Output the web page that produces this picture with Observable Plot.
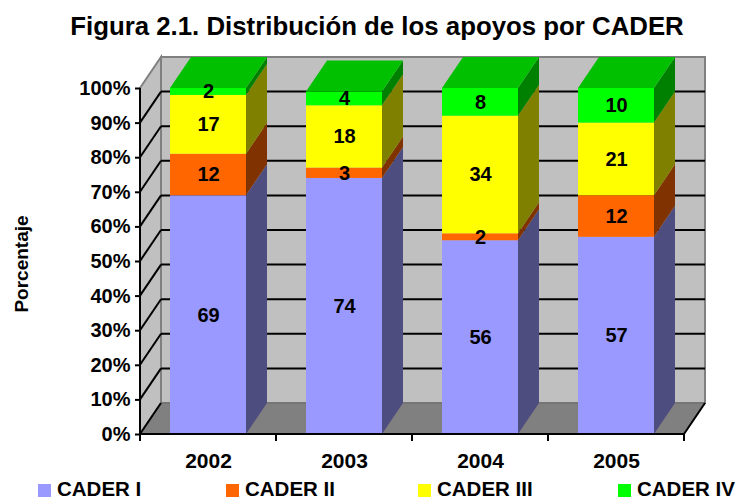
<!DOCTYPE html>
<html>
<head>
<meta charset="utf-8">
<script src="https://cdn.jsdelivr.net/npm/d3@7"></script>
<script src="https://cdn.jsdelivr.net/npm/@observablehq/plot@0.6"></script>
<style>
  body { margin: 0; background: #ffffff; }
  #wrap { position: relative; width: 737px; height: 500px; overflow: hidden;
          font-family: "Liberation Sans", Arial, Helvetica, sans-serif; font-weight: bold; color: #000; }
  #chart { position: absolute; left: 0; top: 0; }
  #title { position: absolute; left: 0; top: 14px; width: 754px; text-align: center;
           font-size: 25.8px; line-height: 1; white-space: nowrap; }
  #ytitle { position: absolute; left: 21px; top: 264px; font-size: 19px; line-height: 1;
            white-space: nowrap; transform: translate(-50%, -50%) rotate(-90deg); }
  .lg-sw { position: absolute; top: 484px; width: 13px; height: 13px; }
  .lg-tx { position: absolute; top: 479px; font-size: 20.5px; line-height: 1; white-space: nowrap; }
</style>
</head>
<body>
<div id="wrap">
  <div id="chart"></div>
  <div id="title">Figura 2.1. Distribución de los apoyos por CADER</div>
  <div id="ytitle">Porcentaje</div>
</div>
<script>
// ---- data ----
const years = ["2002", "2003", "2004", "2005"];
const series = ["CADER I", "CADER II", "CADER III", "CADER IV"];
const caderI   = [69, 74, 56, 57];
const caderII  = [12, 3, 2, 12];
const caderIII = [17, 18, 34, 21];
const caderIV  = [2, 4, 8, 10];
const yTicks = [0, 10, 20, 30, 40, 50, 60, 70, 80, 90, 100];

// ---- styles ----
const frontColors = ["#9999FF", "#FF6600", "#FFFF00", "#00FF00"];
const sideColors  = ["#4D4D80", "#803300", "#808000", "#008000"];
const topColor = "#00C000";
const DX = 21, DY = -31; // 3D depth offset

// build stacked rows
const values = [caderI, caderII, caderIII, caderIV];
const rows = [];
years.forEach((yr, i) => {
  let acc = 0;
  series.forEach((s, si) => {
    const v = values[si][i];
    rows.push({year: yr, series: s, si, value: v, y1: acc, y2: acc + v, last: si === series.length - 1});
    acc += v;
  });
});

function bw(s) { return typeof s.bandwidth === "function" ? s.bandwidth() : s.bandwidth; }

// walls, floor, gridlines
const walls = (index, scales, vals, dims) => {
  const g = d3.create("svg:g");
  const x0 = dims.marginLeft, x1 = dims.width - dims.marginRight;
  const y = scales.y;
  const yb = y(0), yt = y(100);
  g.append("rect").attr("x", x0 + DX).attr("y", yt + DY).attr("width", x1 - x0).attr("height", yb - yt)
    .attr("fill", "#C0C0C0").attr("stroke", "#808080").attr("stroke-width", 2);
  g.append("path").attr("d", `M${x0},${yb}L${x0},${yt}L${x0 + DX},${yt + DY}L${x0 + DX},${yb + DY}Z`)
    .attr("fill", "#C0C0C0").attr("stroke", "#808080").attr("stroke-width", 2);
  g.append("path").attr("d", `M${x0},${yb}L${x1},${yb}L${x1 + DX},${yb + DY}L${x0 + DX},${yb + DY}Z`)
    .attr("fill", "#808080").attr("stroke", "#6a6a6a").attr("stroke-width", 1);
  yTicks.forEach(t => {
    const yy = y(t);
    if (t > 0 && t < 100) {
      g.append("line").attr("x1", x0 + DX).attr("x2", x1 + DX).attr("y1", yy + DY).attr("y2", yy + DY)
        .attr("stroke", "#000").attr("stroke-width", 2);
    }
    if (t < 100) {
      g.append("line").attr("x1", x0).attr("x2", x0 + DX).attr("y1", yy).attr("y2", yy + DY)
        .attr("stroke", "#000").attr("stroke-width", 2);
    }
  });
  return g.node();
};

// side and top faces of bars
const faces = (index, scales, vals, dims) => {
  const g = d3.create("svg:g");
  const w = bw(scales.x);
  rows.forEach(d => {
    const xL = scales.x(d.year), xR = xL + w;
    const yT = scales.y(d.y2), yB = scales.y(d.y1);
    g.append("path").attr("d", `M${xR},${yB}L${xR},${yT}L${xR + DX},${yT + DY}L${xR + DX},${yB + DY}Z`)
      .attr("fill", sideColors[d.si]);
    if (d.last) {
      g.append("path").attr("d", `M${xL},${yT}L${xR},${yT}L${xR + DX},${yT + DY}L${xL + DX},${yT + DY}Z`)
        .attr("fill", topColor);
    }
  });
  return g.node();
};

// axis lines and category boundary ticks
const axes = (index, scales, vals, dims) => {
  const g = d3.create("svg:g");
  const x0 = dims.marginLeft, x1 = dims.width - dims.marginRight;
  const y = scales.y, yb = y(0), yt = y(100);
  const step = scales.x.step ? scales.x.step() : (x1 - x0) / years.length;
  const w = bw(scales.x);
  const centers = years.map(yr => scales.x(yr) + w / 2);
  const bounds = centers.map(c => c - step / 2).concat([centers[centers.length - 1] + step / 2]);
  g.append("line").attr("x1", x0).attr("x2", x0).attr("y1", yb + 1).attr("y2", yt)
    .attr("stroke", "#000").attr("stroke-width", 2);
  g.append("line").attr("x1", x0 - 1).attr("x2", x1).attr("y1", yb).attr("y2", yb)
    .attr("stroke", "#000").attr("stroke-width", 2);
  g.append("line").attr("x1", x1).attr("x2", x1 + DX).attr("y1", yb).attr("y2", yb + DY)
    .attr("stroke", "#000").attr("stroke-width", 2);
  bounds.forEach(bx => {
    g.append("line").attr("x1", bx).attr("x2", bx).attr("y1", yb).attr("y2", yb + 7)
      .attr("stroke", "#000").attr("stroke-width", 2);
  });
  return g.node();
};

const plot = Plot.plot({
  width: 737,
  height: 500,
  marginLeft: 140,
  marginRight: 53,
  marginTop: 88,
  marginBottom: 66,
  x: {domain: years, paddingInner: 0.44, paddingOuter: 0.22},
  y: {domain: [0, 100]},
  color: {domain: series, range: frontColors},
  style: {fontFamily: "'Liberation Sans', Arial, Helvetica, sans-serif", fontWeight: "bold", color: "#000", background: "transparent", overflow: "visible"},
  marks: [
    walls,
    Plot.barY(rows, {x: "year", y1: "y1", y2: "y2", fill: "series"}),
    faces,
    axes,
    Plot.axisY(yTicks, {tickFormat: d => d + "%", tickSize: 5, tickPadding: 5, strokeWidth: 2, fontSize: 20, fontWeight: "bold", label: null}),
    Plot.axisX({tickSize: 0, tickPadding: 19, fontSize: 21, fontWeight: "bold", label: null}),
    Plot.text(rows, {x: "year", y: d => (d.y1 + d.y2) / 2, text: d => String(d.value), fontSize: 20, fontWeight: "bold", fill: "#000"})
  ]
});
document.getElementById("chart").appendChild(plot);

// legend
const wrap = document.getElementById("wrap");
const swX = [38, 226, 418, 618];
series.forEach((s, i) => {
  const sw = document.createElement("div");
  sw.className = "lg-sw";
  sw.style.left = swX[i] + "px";
  sw.style.background = frontColors[i];
  wrap.appendChild(sw);
  const tx = document.createElement("div");
  tx.className = "lg-tx";
  tx.style.left = (swX[i] + 19) + "px";
  tx.textContent = s;
  wrap.appendChild(tx);
});
</script>
</body>
</html>
